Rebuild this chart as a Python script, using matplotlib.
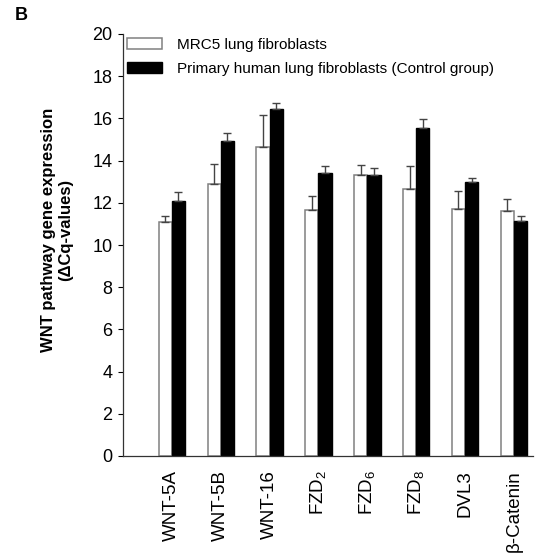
import matplotlib
matplotlib.use("Agg")
import matplotlib.pyplot as plt
import numpy as np

plt.rcParams['font.family'] = ['Liberation Sans', 'DejaVu Sans']
plt.rcParams['mathtext.fontset'] = 'custom'
plt.rcParams['mathtext.rm'] = 'Liberation Sans'
plt.rcParams['mathtext.it'] = 'Liberation Sans:italic'
plt.rcParams['mathtext.bf'] = 'Liberation Sans:bold'

categories = ['WNT-5A', 'WNT-5B', 'WNT-16', 'FZD$_2$', 'FZD$_6$', 'FZD$_8$', 'DVL3', 'β-Catenin']
mrc5 = [11.10, 12.89, 14.63, 11.67, 13.32, 12.67, 11.72, 11.61]
mrc5_err = [0.27, 0.95, 1.55, 0.67, 0.47, 1.06, 0.82, 0.56]
primary = [12.07, 14.93, 16.45, 13.40, 13.33, 15.54, 12.99, 11.12]
primary_err = [0.44, 0.38, 0.30, 0.34, 0.33, 0.42, 0.17, 0.25]
series_labels = ['MRC5 lung fibroblasts', 'Primary human lung fibroblasts (Control group)']
yticks = [0, 2, 4, 6, 8, 10, 12, 14, 16, 18, 20]

fig = plt.figure(figsize=(5.57, 5.55), dpi=100)
ax = fig.add_axes([123/557, 1-456/555, (533-123)/557, (456-34)/555])

x = np.arange(len(categories))
w = 0.27
ekw = dict(ecolor='#444444', elinewidth=1.0, capsize=3.0, capthick=1.0)
ax.bar(x - w/2, mrc5, w, color='white', edgecolor='#808080', linewidth=1.1,
       yerr=[np.zeros(len(mrc5)), mrc5_err], error_kw=ekw, label=series_labels[0], zorder=2)
ax.bar(x + w/2, primary, w, color='black', edgecolor='black', linewidth=1.0,
       yerr=[np.zeros(len(primary)), primary_err], error_kw=ekw, label=series_labels[1], zorder=2)

ax.set_xlim(-1.0, 7.39)
ax.set_ylim(0, 20)
ax.set_yticks(yticks)
ax.set_yticklabels([str(v) for v in yticks], fontsize=13)
ax.set_xticks(x)
ax.set_xticklabels(categories, rotation=90, fontsize=13.5)
ax.tick_params(axis='x', length=0, pad=10)
ax.tick_params(axis='y', length=3.5, width=0.8, direction='out', pad=4)
for s in ['top', 'right']:
    ax.spines[s].set_visible(False)
for s in ['left', 'bottom']:
    ax.spines[s].set_linewidth(0.9)
    ax.spines[s].set_color('#333333')

ax.set_ylabel('WNT pathway gene expression\n(ΔCq-values)', fontsize=12, fontweight='bold')
ax.yaxis.set_label_coords((73-123)/410, (456-230)/422)

leg = ax.legend(loc='upper left', bbox_to_anchor=(127/557, 1-38/555), bbox_transform=fig.transFigure,
                frameon=False, fontsize=11, handlelength=2.3, handleheight=0.75,
                handletextpad=1.0, labelspacing=0.65, borderaxespad=0, borderpad=0)

fig.text(15/557, 1-20/555, 'B', fontsize=13, fontweight='bold', ha='left', va='baseline')

fig.savefig('out.png', dpi=100)
